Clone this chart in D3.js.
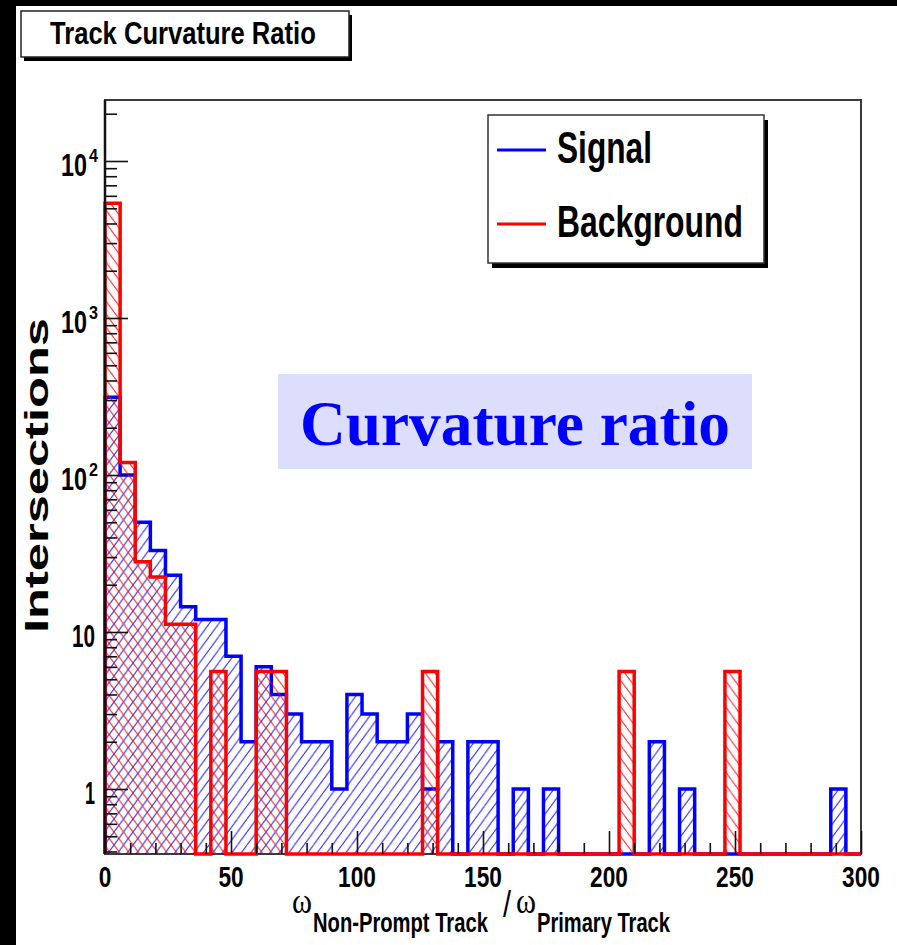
<!DOCTYPE html>
<html>
<head>
<meta charset="utf-8">
<script src="https://cdn.jsdelivr.net/npm/d3@7/dist/d3.min.js"></script>
<style>
  html, body { margin: 0; padding: 0; background: #fff; }
  svg { display: block; }
</style>
</head>
<body>
<svg id="chart" width="897" height="945"></svg>
<script>
// Histogram binning: 50 bins of width 6 over [0, 300]
const binWidth = 6;
const binStarts = d3.range(0, 300, binWidth);

// Signal counts per bin
const signalCounts = [
  313, 100, 50, 33, 23, 14.5, 12, 12, 7, 2,
  6, 4, 3, 2, 2, 1, 4, 3, 2, 2,
  3, 1, 2, 0, 2, 2, 0, 1, 0, 1,
  0, 0, 0, 0, 0, 0, 2, 0, 1, 0,
  0, 0, 0, 0, 0, 0, 0, 0, 1, 0
];

// Background counts per bin (weighted)
const backgroundCounts = [
  5380, 120, 28, 22.4, 11.2, 11.2, 0, 5.6, 0, 0,
  5.6, 5.6, 0, 0, 0, 0, 0, 0, 0, 0,
  0, 5.6, 0, 0, 0, 0, 0, 0, 0, 0,
  0, 0, 0, 0, 5.6, 0, 0, 0, 0, 0,
  0, 5.6, 0, 0, 0, 0, 0, 0, 0, 0
];

const seriesNames = ["Signal", "Background"];
const xTickValues = [0, 50, 100, 150, 200, 250, 300];
const xMinorTicks = [10, 20, 30, 40, 60, 70, 80, 90, 110, 120, 130, 140, 160, 170, 180, 190, 210, 220, 230, 240, 260, 270, 280, 290];
const yMajorTicks = [1, 10, 100, 1000, 10000];
const yMinorTicks = [0.4, 0.5, 0.6, 0.7, 0.8, 0.9,
  2, 3, 4, 5, 6, 7, 8, 9,
  20, 30, 40, 50, 60, 70, 80, 90,
  200, 300, 400, 500, 600, 700, 800, 900,
  2000, 3000, 4000, 5000, 6000, 7000, 8000, 9000,
  20000];

const titleText = "Track Curvature Ratio";
const yTitle = "Intersections";
const bannerText = "Curvature ratio";

const svg = d3.select("#chart");
const SANS = "'Liberation Sans', Arial, Helvetica, sans-serif";
const SERIF = "'Liberation Serif', 'Times New Roman', serif";

// Frame geometry
const frameL = 105, frameR = 861, frameT = 100, frameB = 854;

const x = d3.scaleLinear().domain([0, 300]).range([frameL, frameR]);
// Log scale anchored on decades, then extended to the frame edges
const y = d3.scaleLog().domain([1, 1e4]).range([789, 161]);
const yLo = y.invert(frameB), yHi = y.invert(frameT);
y.domain([yLo, yHi]).range([frameB, frameT]);

const yv = v => (v > yLo ? y(v) : frameB);

// Page background bands
svg.append("rect").attr("x", 0).attr("y", 0).attr("width", 897).attr("height", 945).attr("fill", "#fff");
svg.append("rect").attr("x", 0).attr("y", 0).attr("width", 897).attr("height", 6).attr("fill", "#000");
svg.append("rect").attr("x", 0).attr("y", 0).attr("width", 16).attr("height", 945).attr("fill", "#000");

// Hatch patterns
const defs = svg.append("defs");
function hatch(id, color, forward) {
  const w = 9.5, h = 13;
  const p = defs.append("pattern").attr("id", id)
    .attr("patternUnits", "userSpaceOnUse")
    .attr("width", w).attr("height", h);
  const d = forward
    ? `M0,${h} L${w},0 M${-w},${h} L0,0 M${w},${h} L${2 * w},0`
    : `M0,0 L${w},${h} M${-w},0 L0,${h} M${w},0 L${2 * w},${h}`;
  p.append("path").attr("d", d).attr("stroke", color).attr("stroke-width", 1.1)
    .attr("stroke-opacity", 0.8).attr("fill", "none");
}
hatch("hatchSignal", "#0000ff", true);
hatch("hatchBackground", "#ff0000", false);

// Frame
svg.append("rect").attr("x", frameL).attr("y", frameT).attr("width", frameR - frameL).attr("height", frameB - frameT)
  .attr("fill", "#fff").attr("stroke", "#3a3a3a").attr("stroke-width", 2);

// Step path for a histogram
function stepPath(counts) {
  const pts = [[x(0), frameB]];
  counts.forEach((v, i) => {
    const lo = binStarts[i], hi = lo + binWidth;
    pts.push([x(lo), yv(v)], [x(hi), yv(v)]);
  });
  pts.push([x(300), frameB]);
  return d3.line()(pts);
}

function drawHist(counts, color, pattern) {
  const d = stepPath(counts);
  svg.append("path").attr("d", d + "Z").attr("fill", `url(#${pattern})`).attr("stroke", "none");
  svg.append("path").attr("d", d).attr("fill", "none").attr("stroke", color)
    .attr("stroke-width", 3.5).attr("stroke-linejoin", "miter");
}
drawHist(signalCounts, "#0000ff", "hatchSignal");
drawHist(backgroundCounts, "#ff0000", "hatchBackground");

// Left axis line
svg.append("line").attr("x1", frameL).attr("x2", frameL).attr("y1", frameT).attr("y2", frameB)
  .attr("stroke", "#111").attr("stroke-width", 2.5);

// Axis ticks
function styleTicks(g) {
  g.select(".domain").remove();
  g.selectAll("line").attr("stroke", "#111").attr("stroke-width", 1.6);
  g.selectAll("text").remove();
}
svg.append("g").attr("transform", `translate(${frameL},0)`)
  .call(d3.axisRight(y).tickValues(yMinorTicks).tickSize(12).tickFormat("")).call(styleTicks);
svg.append("g").attr("transform", `translate(${frameL},0)`)
  .call(d3.axisRight(y).tickValues(yMajorTicks).tickSize(23).tickFormat("")).call(styleTicks);
svg.append("g").attr("transform", `translate(0,${frameB})`)
  .call(d3.axisTop(x).tickValues(xMinorTicks).tickSize(11).tickFormat("")).call(styleTicks);
svg.append("g").attr("transform", `translate(0,${frameB})`)
  .call(d3.axisTop(x).tickValues(xTickValues).tickSize(23).tickFormat("")).call(styleTicks);

// Text helper: narrow-looking type, scaled horizontally to a target width
function label(parent, txt, px, py, opts) {
  const g = parent.append("g").attr("transform", `translate(${px},${py})`);
  const t = g.append("text").attr("x", 0).attr("y", 0).text(txt)
    .attr("font-family", opts.family || SANS)
    .attr("font-weight", opts.weight || "bold")
    .attr("font-size", opts.size)
    .attr("fill", opts.fill || "#000")
    .attr("text-anchor", opts.anchor || "start");
  if (opts.len) {
    const natural = t.node().getComputedTextLength();
    if (natural > 0) t.attr("transform", `scale(${opts.len / natural},1)`);
  }
  return t;
}

// X tick labels
xTickValues.forEach(v => {
  const s = String(v);
  label(svg, s, x(v), 887, { size: 30, anchor: "middle", len: s.length * 12.6 });
});

// Y tick labels (power of ten drawn as base + raised exponent)
yMajorTicks.forEach(v => {
  const base = y(v) + 14.5;
  const k = Math.round(Math.log10(v));
  if (k === 0) {
    label(svg, "1", 95, base, { size: 31, anchor: "end", len: 10 });
  } else if (k === 1) {
    label(svg, "10", 95, base, { size: 31, anchor: "end", len: 23 });
  } else {
    label(svg, "10", 61, base, { size: 31, len: 26 });
    label(svg, String(k), 89, base - 14, { size: 19, len: 9 });
  }
});

// Y axis title
label(svg.append("g").attr("transform", "translate(48,633) rotate(-90)"), yTitle, 0, 0,
  { size: 33, len: 315 });

// X axis title: omega ratio with subscripts
label(svg, "\u03c9", 292, 913, { family: SERIF, weight: "normal", size: 36, len: 20 });
label(svg, "Non-Prompt Track", 313, 932, { size: 28, len: 175 });
label(svg, "/", 503, 917, { weight: "normal", size: 36, len: 8 });
label(svg, "\u03c9", 516, 913, { family: SERIF, weight: "normal", size: 36, len: 20 });
label(svg, "Primary Track", 537, 932, { size: 28, len: 133 });

// Title box
svg.append("rect").attr("x", 24).attr("y", 15).attr("width", 328).attr("height", 46).attr("fill", "#000");
svg.append("rect").attr("x", 21).attr("y", 11).attr("width", 328).attr("height", 46)
  .attr("fill", "#fff").attr("stroke", "#222").attr("stroke-width", 1.5);
label(svg, titleText, 50, 44, { size: 31, len: 266 });

// Legend
const lg = { x: 488, y: 115, w: 276, h: 148 };
svg.append("rect").attr("x", lg.x + 4).attr("y", lg.y + 5).attr("width", lg.w).attr("height", lg.h).attr("fill", "#000");
svg.append("rect").attr("x", lg.x).attr("y", lg.y).attr("width", lg.w).attr("height", lg.h)
  .attr("fill", "#fff").attr("stroke", "#333").attr("stroke-width", 1.5);
const legendRows = [
  { name: seriesNames[0], color: "#0000ff", ly: 150, base: 163, len: 95 },
  { name: seriesNames[1], color: "#ff0000", ly: 224, base: 237, len: 186 }
];
legendRows.forEach(r => {
  svg.append("line").attr("x1", 497).attr("x2", 546).attr("y1", r.ly).attr("y2", r.ly)
    .attr("stroke", r.color).attr("stroke-width", 3);
  label(svg, r.name, 557, r.base, { size: 45, len: r.len });
});

// Banner annotation
svg.append("rect").attr("x", 278).attr("y", 374).attr("width", 474).attr("height", 95).attr("fill", "#dddefc");
label(svg, bannerText, 300, 445, { family: SERIF, size: 63, fill: "#0000ff", len: 430 });
</script>
</body>
</html>
